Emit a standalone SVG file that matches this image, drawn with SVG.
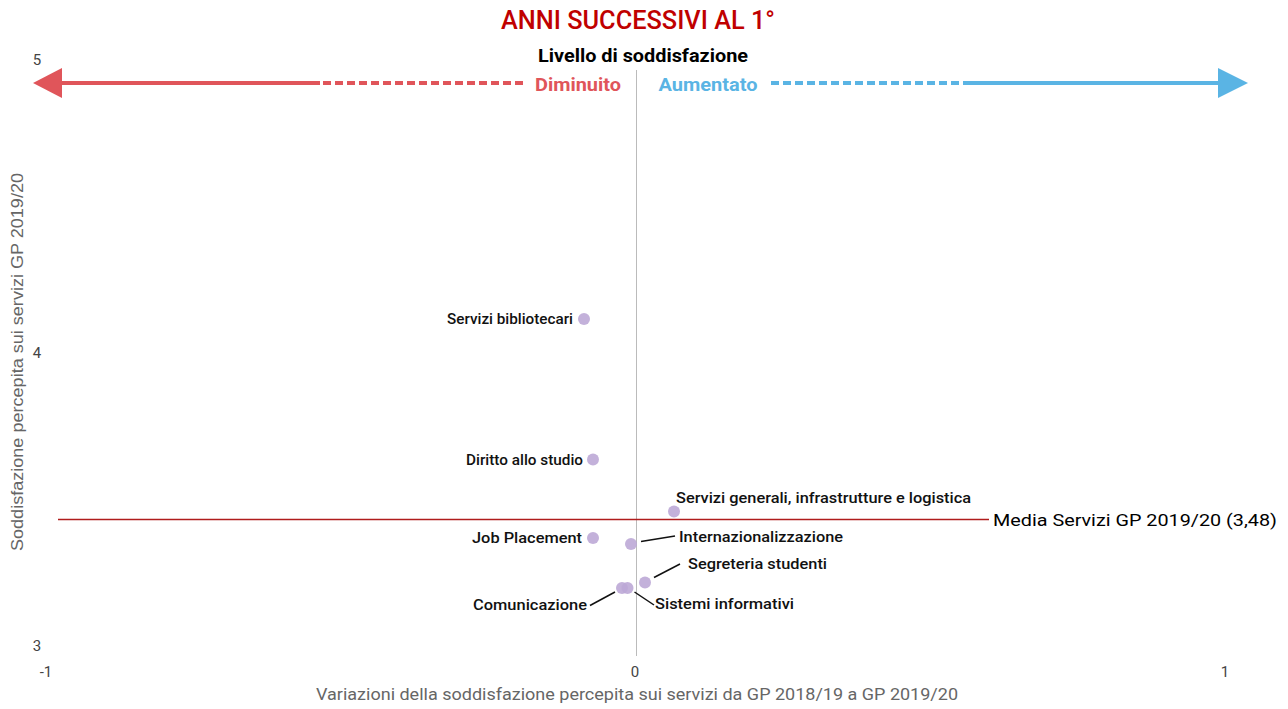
<svg xmlns="http://www.w3.org/2000/svg" width="1288" height="709" viewBox="0 0 1288 709">
<style>
text{font-family:Roboto,"Liberation Sans",sans-serif}
.tick{font-size:15px;fill:#444}
.axt{font-size:16px;fill:#666}
.lab{font-size:15px;font-weight:500;fill:#111}
.pt{fill:#bda8d6;opacity:0.9}
.lead{stroke:#111;stroke-width:1.5;fill:none}
</style>
<rect width="1288" height="709" fill="#fff"/>
<g id="title">
<text x="638" y="29" text-anchor="middle" font-size="25" font-weight="500" fill="#c00000" textLength="274" lengthAdjust="spacingAndGlyphs">ANNI SUCCESSIVI AL 1°</text>
<text x="643" y="62" text-anchor="middle" font-size="18" font-weight="bold" fill="#000" textLength="210" lengthAdjust="spacingAndGlyphs">Livello di soddisfazione</text>
</g>
<g id="axes">
<line x1="636.5" y1="70" x2="636.5" y2="656" stroke="#bbb" stroke-width="1"/>
<text class="tick" x="37" y="65" text-anchor="middle">5</text>
<text class="tick" x="37" y="358" text-anchor="middle">4</text>
<text class="tick" x="37" y="651" text-anchor="middle">3</text>
<text class="tick" x="46" y="677" text-anchor="middle">-1</text>
<text class="tick" x="635" y="677" text-anchor="middle">0</text>
<text class="tick" x="1225" y="677" text-anchor="middle">1</text>
<text class="axt" x="637" y="700" text-anchor="middle" textLength="642" lengthAdjust="spacingAndGlyphs">Variazioni della soddisfazione percepita sui servizi da GP 2018/19 a GP 2019/20</text>
<text class="axt" transform="translate(23,362) rotate(-90)" text-anchor="middle" style="font-family:'Liberation Sans',Arial,sans-serif" textLength="378" lengthAdjust="spacingAndGlyphs">Soddisfazione percepita sui servizi GP 2019/20</text>
</g>
<g id="arrows">
<polygon points="33,83 62,68 62,98" fill="#e0555a"/>
<line x1="60" y1="83" x2="320" y2="83" stroke="#e0555a" stroke-width="4"/>
<line x1="323" y1="83" x2="524" y2="83" stroke="#e0555a" stroke-width="4" stroke-dasharray="8,4"/>
<text x="578" y="91" text-anchor="middle" font-size="18" font-weight="bold" fill="#e0555a" textLength="86" lengthAdjust="spacingAndGlyphs">Diminuito</text>
<text x="708" y="91" text-anchor="middle" font-size="18" font-weight="bold" fill="#5ab4e4" textLength="99" lengthAdjust="spacingAndGlyphs">Aumentato</text>
<line x1="771" y1="83" x2="961" y2="83" stroke="#5ab4e4" stroke-width="4" stroke-dasharray="8,4"/>
<line x1="963" y1="83" x2="1220" y2="83" stroke="#5ab4e4" stroke-width="4"/>
<polygon points="1248,83 1218,68 1218,98" fill="#5ab4e4"/>
</g>
<g id="mean">
<line x1="58" y1="519.5" x2="989" y2="519.5" stroke="#b01c1c" stroke-width="1.5"/>
<text x="993" y="526" font-size="17" fill="#000" textLength="284" lengthAdjust="spacingAndGlyphs">Media Servizi GP 2019/20 (3,48)</text>
</g>
<g id="connectors">
<line class="lead" x1="641" y1="541.5" x2="675" y2="536"/>
<line class="lead" x1="654" y1="577.5" x2="680" y2="564"/>
<line class="lead" x1="590" y1="605.5" x2="615" y2="592"/>
<line class="lead" x1="634.5" y1="592" x2="654" y2="605"/>
</g>
<g id="n-bibliotecari"><circle class="pt" cx="584" cy="319" r="6"/><text class="lab" x="573" y="324" text-anchor="end" textLength="126" lengthAdjust="spacingAndGlyphs">Servizi bibliotecari</text></g>
<g id="n-diritto"><circle class="pt" cx="593" cy="459.5" r="6"/><text class="lab" x="583" y="465" text-anchor="end" textLength="117" lengthAdjust="spacingAndGlyphs">Diritto allo studio</text></g>
<g id="n-generali"><circle class="pt" cx="674" cy="511.5" r="6"/><text class="lab" x="676" y="503" textLength="295" lengthAdjust="spacingAndGlyphs">Servizi generali, infrastrutture e logistica</text></g>
<g id="n-job"><circle class="pt" cx="593" cy="538" r="6"/><text class="lab" x="582" y="543" text-anchor="end" textLength="110" lengthAdjust="spacingAndGlyphs">Job Placement</text></g>
<g id="n-internaz"><circle class="pt" cx="631" cy="544" r="6"/><text class="lab" x="679" y="542" textLength="164" lengthAdjust="spacingAndGlyphs">Internazionalizzazione</text></g>
<g id="n-segreteria"><circle class="pt" cx="645" cy="582.5" r="6"/><text class="lab" x="688" y="569" textLength="139" lengthAdjust="spacingAndGlyphs">Segreteria studenti</text></g>
<g id="n-comunicazione"><circle class="pt" cx="622" cy="588" r="6"/><text class="lab" x="587" y="610" text-anchor="end" textLength="114" lengthAdjust="spacingAndGlyphs">Comunicazione</text></g>
<g id="n-sistemi"><circle class="pt" cx="627.5" cy="588" r="6"/><text class="lab" x="655" y="609" textLength="139" lengthAdjust="spacingAndGlyphs">Sistemi informativi</text></g>
</svg>
